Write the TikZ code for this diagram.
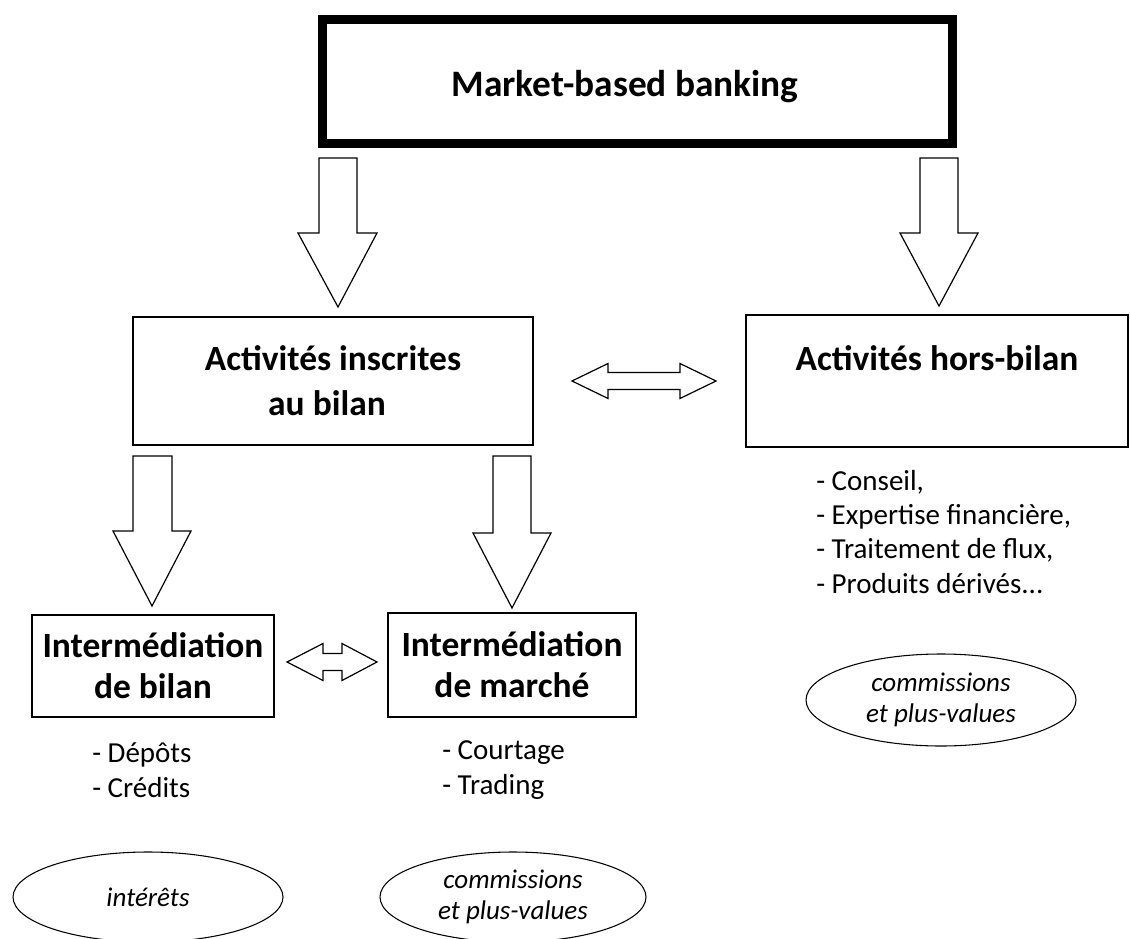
\documentclass[tikz,border=0pt]{standalone}
\usepackage{fontspec}
\setmainfont{Carlito}
\usetikzlibrary{shapes.geometric}
\begin{document}
\begin{tikzpicture}[x=0.75pt,y=-0.75pt,
  box/.style={draw,line width=1.2pt,rectangle,inner sep=0pt,align=center,
    font=\fontsize{26.6}{33.75}\selectfont\bfseries},
  bigbox/.style={draw,line width=6.75pt,rectangle,inner sep=0pt,align=center,
    font=\fontsize{28}{34}\selectfont\bfseries},
  blk/.style={draw,line width=0.9pt,fill=white,line join=miter},
  oval/.style={draw,line width=0.8pt,ellipse,inner sep=0pt,align=center,
    font=\fontsize{20.25}{23.5}\selectfont\itshape},
  listtxt/.style={anchor=base west,inner sep=0pt,align=left,
    font=\fontsize{21.75}{25.75}\selectfont}
]
\useasboundingbox[fill=white] (0,0) rectangle (1130,938);

% boxes
\node[bigbox,minimum width=472.5pt,minimum height=93pt,text height=28pt,text depth=5.5pt] (mbb) at (637.5,81.5)
  {Market-based banking\hspace*{18.75pt}};
\node[box,minimum width=300pt,minimum height=96pt] (ins) at (333,381)
  {Activités inscrites\\au bilan\hspace*{9pt}};
\node[box,minimum width=286.5pt,minimum height=99pt] (hors) at (937,381)
  {Activités hors-bilan\\\mbox{}};
\node[box,minimum width=181.5pt,minimum height=76.5pt,
  font=\fontsize{26.6}{30.75}\selectfont\bfseries] (bil) at (153,666)
  {Intermédiation\\de bilan};
\node[box,minimum width=186pt,minimum height=78pt,
  font=\fontsize{26.6}{30.75}\selectfont\bfseries] (mar) at (512,665)
  {Intermédiation\\de marché};

% block arrows down
\draw[blk] (319,158) -- (357,158) -- (357,233) -- (377,233) -- (338,307) -- (298,233) -- (319,233) -- cycle;
\draw[blk] (920,158) -- (958,158) -- (958,233) -- (978,233) -- (939,306) -- (900,233) -- (920,233) -- cycle;
\draw[blk] (133,456) -- (172,456) -- (172,531) -- (191,531) -- (152,606) -- (113,531) -- (133,531) -- cycle;
\draw[blk] (493,456) -- (531,456) -- (531,533) -- (551,533) -- (512,608) -- (473,533) -- (493,533) -- cycle;

% double arrows
\draw[blk] (572,381) -- (608,363.5) -- (608,372.5) -- (680,372.5) -- (680,363.5) -- (716,381)
  -- (680,398.5) -- (680,389.5) -- (608,389.5) -- (608,398.5) -- cycle;
\draw[blk] (287,662) -- (323,643.5) -- (323,653.5) -- (342,653.5) -- (342,643.5) -- (377,662)
  -- (342,680.5) -- (342,670.5) -- (323,670.5) -- (323,680.5) -- cycle;

% lists (anchor at the baseline of the last line)
\node[listtxt] (lbil) at (92,797) {- Dépôts\\- Crédits};
\node[listtxt] (lmar) at (442,794) {- Courtage\\- Trading};
\node[listtxt] (lhors) at (816,593) {- Conseil,\\- Expertise financière,\\- Traitement de flux,\\- Produits dérivés...};

% ovals
\node[oval,minimum width=202.5pt,minimum height=67.5pt] (oint) at (148,897) {intérêts};
\node[oval,minimum width=199.5pt,minimum height=67.5pt] (ocom) at (513,897) {commissions\\et plus-values};
\node[oval,minimum width=202.5pt,minimum height=69pt] (ohors) at (941,700) {commissions\\et plus-values};
\end{tikzpicture}
\end{document}
